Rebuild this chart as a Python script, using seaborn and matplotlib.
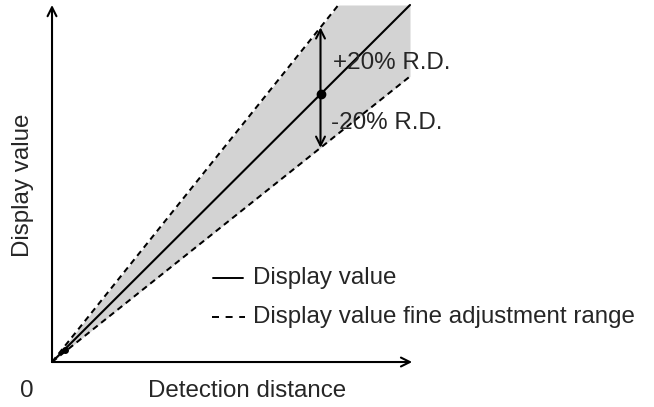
import numpy as np
import pandas as pd
import matplotlib
matplotlib.use("Agg")
import matplotlib.pyplot as plt
import seaborn as sns

# ---- data (diagram units) ----
x_max = 10.0          # right edge of the band
y_max = 10.0          # top clip of the band
slope_display = 1.0   # display value
slope_upper = 1.25    # +20% R.D.
slope_lower = 0.8     # -20% R.D.
x_marker = 7.5        # point where the R.D. arrow is drawn
x_small_dot = 0.35
labels_pm = ["+20% R.D.", "-20% R.D."]
legend_labels = ["Display value", "Display value fine adjustment range"]
x_label = "Detection distance"
y_label = "Display value"
origin_label = "0"

sns.set_theme(style="white")
plt.rcParams['font.family'] = ['Liberation Sans', 'DejaVu Sans']

fig = plt.figure(figsize=(6.54, 4.07), dpi=100)
ax = fig.add_axes([0, 0, 1, 1])
ax.set_xlim(-1.453, 16.816)
ax.set_ylim(-1.26, 10.14)
ax.axis("off")

xs = np.linspace(0, x_max, 400)
upper = np.minimum(slope_upper * xs, y_max)
lower = slope_lower * xs
ax.fill_between(xs, lower, upper, color="#d3d3d3", linewidth=0, zorder=1)

df_solid = pd.DataFrame({"x": [0, y_max / slope_display], "y": [0, y_max]})
df_up = pd.DataFrame({"x": [0, y_max / slope_upper], "y": [0, y_max]})
df_lo = pd.DataFrame({"x": [0, x_max], "y": [0, slope_lower * x_max]})

sns.lineplot(data=df_solid, x="x", y="y", color="black", lw=1.5, ax=ax, zorder=3)
dash = (3.0, 2.2)
sns.lineplot(data=df_up, x="x", y="y", color="black", lw=1.45, ax=ax, zorder=3,
             dashes=False, linestyle=(0, dash))
sns.lineplot(data=df_lo, x="x", y="y", color="black", lw=1.45, ax=ax, zorder=3,
             dashes=False, linestyle=(0, dash))

# axes arrows
ax.annotate("", xy=(0, 10.0), xytext=(0, 0),
            arrowprops=dict(arrowstyle="->", color="black", lw=1.5,
                            mutation_scale=16, shrinkA=0, shrinkB=0), zorder=4)
ax.annotate("", xy=(10.06, 0), xytext=(0, 0),
            arrowprops=dict(arrowstyle="->", color="black", lw=1.5,
                            mutation_scale=16, shrinkA=0, shrinkB=0), zorder=4)

# R.D. double arrow
ax.annotate("", xy=(x_marker, slope_upper * x_marker), xytext=(x_marker, slope_lower * x_marker),
            arrowprops=dict(arrowstyle="<->", color="black", lw=1.5,
                            mutation_scale=16, shrinkA=0, shrinkB=0), zorder=4)
ax.plot([x_marker], [slope_display * x_marker], "o", color="black", ms=6, zorder=5)
ax.plot([x_small_dot], [slope_display * x_small_dot], "o", color="black", ms=4, zorder=5)

fs = 17.4
ax.text(7.85, 8.375, labels_pm[0], fontsize=fs, va="center", ha="left", zorder=6)
ax.text(7.79, 6.69, labels_pm[1], fontsize=fs, va="center", ha="left", zorder=6)

# legend (drawn manually)
ax.plot([4.5, 5.33], [2.35, 2.35], color="black", lw=1.4)
ax.plot([4.47, 5.4], [1.26, 1.26], color="black", lw=1.4, linestyle=(0, (3.6, 3.4)))
ax.text(5.62, 2.35, legend_labels[0], fontsize=fs, va="center", ha="left")
ax.text(5.62, 1.26, legend_labels[1], fontsize=fs, va="center", ha="left")

ax.text(-0.7, -0.8, origin_label, fontsize=fs, va="center", ha="center")
ax.text(5.45, -0.8, x_label, fontsize=fs, va="center", ha="center")
ax.text(-0.8, 4.96, y_label, fontsize=fs, va="center", ha="center", rotation=90)

fig.savefig("out.png", dpi=100)
